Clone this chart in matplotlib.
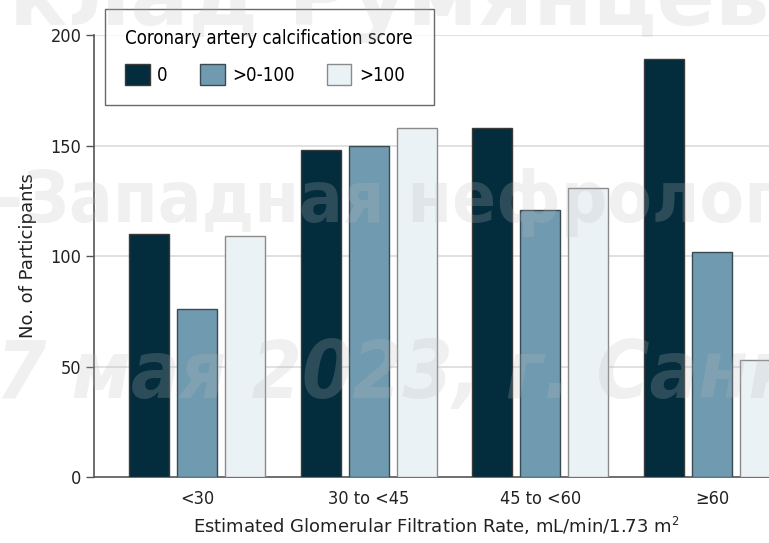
import numpy as np
import matplotlib
matplotlib.use("Agg")
import matplotlib.pyplot as plt

plt.rcParams['font.family'] = ['DejaVu Sans']
plt.rcParams['font.stretch'] = 'condensed'

# participants per eGFR band, split by CAC score
groups = ['<30', '30 to <45', '45 to <60', '≥60']
cac_zero = [110, 148, 158, 189]
cac_low = [76, 150, 121, 102]
cac_high = [109, 158, 131, 53]
series_labels = ['0', '>0-100', '>100']
colors = ['#032d3d', '#6f9aaf', '#eaf2f6']
edges = ['#3a3a3a', '#3a4a52', '#8a8a8a']

fig = plt.figure(figsize=(7.69, 5.43), dpi=100)
ax = fig.add_axes([0.1222, 0.1215, 0.9376, 0.814])

x = np.arange(len(groups))
w = 0.233
off = 0.279
for i, vals in enumerate([cac_zero, cac_low, cac_high]):
    ax.bar(x + (i - 1) * off, vals, width=w, color=colors[i], edgecolor=edges[i],
           linewidth=1.0, label=series_labels[i], zorder=3)

ax.set_xlim(-0.6, 3.6)
ax.set_ylim(0, 200)
ax.set_yticks([0, 50, 100, 150, 200])
for yv in [50, 100, 150, 200]:
    ax.axhline(yv, color='#dedede', lw=1.3, zorder=1)

ax.set_xticks(x)
ax.set_xticklabels(groups)
ax.tick_params(axis='x', length=0, pad=9, labelsize=13, colors='#222222')
ax.tick_params(axis='y', length=6, width=1, pad=3, labelsize=13, colors='#555555',
               labelcolor='#222222')
for s in ['top', 'right']:
    ax.spines[s].set_visible(False)
for s in ['left', 'bottom']:
    ax.spines[s].set_color('#555555')
    ax.spines[s].set_linewidth(1.2)

ax.set_ylabel('No. of Participants', fontsize=13, color='#222222', labelpad=10,
              fontstretch='normal')
ax.set_xlabel('Estimated Glomerular Filtration Rate, mL/min/1.73 m$^2$',
              fontsize=13, color='#222222', x=0.474, labelpad=5,
              fontstretch='normal')

leg = ax.legend(title='Coronary artery calcification score', ncol=3,
                loc='upper left', bbox_to_anchor=(105 / 769, 1 - 9 / 543),
                bbox_transform=fig.transFigure, borderaxespad=0,
                fontsize=13.4, title_fontsize=13.4,
                frameon=True, fancybox=False, handlelength=1.3, handleheight=1.3,
                handletextpad=0.4, columnspacing=1.75, borderpad=1.1,
                labelspacing=0.85, alignment='left')
leg.get_frame().set_edgecolor('#444444')
leg.get_frame().set_linewidth(1.0)
leg.set_zorder(5)

# faint banner text across the slide
wm = dict(color='#bbbbbb', alpha=0.22, fontweight='bold', zorder=10,
          va='baseline', ha='left')
fig.text(0.012, 1 - 25 / 543, 'клад Румянцева', fontsize=62, fontstretch='normal', **wm)
fig.text(-0.005, 1 - 222 / 543, '-Западная нефрология', fontsize=52, **wm)
fig.text(-0.005, 1 - 398 / 543, '7 мая 2023, г. Санкт-Петербург', fontsize=58,
         style='italic', **wm)

fig.savefig('out.png', dpi=100)
